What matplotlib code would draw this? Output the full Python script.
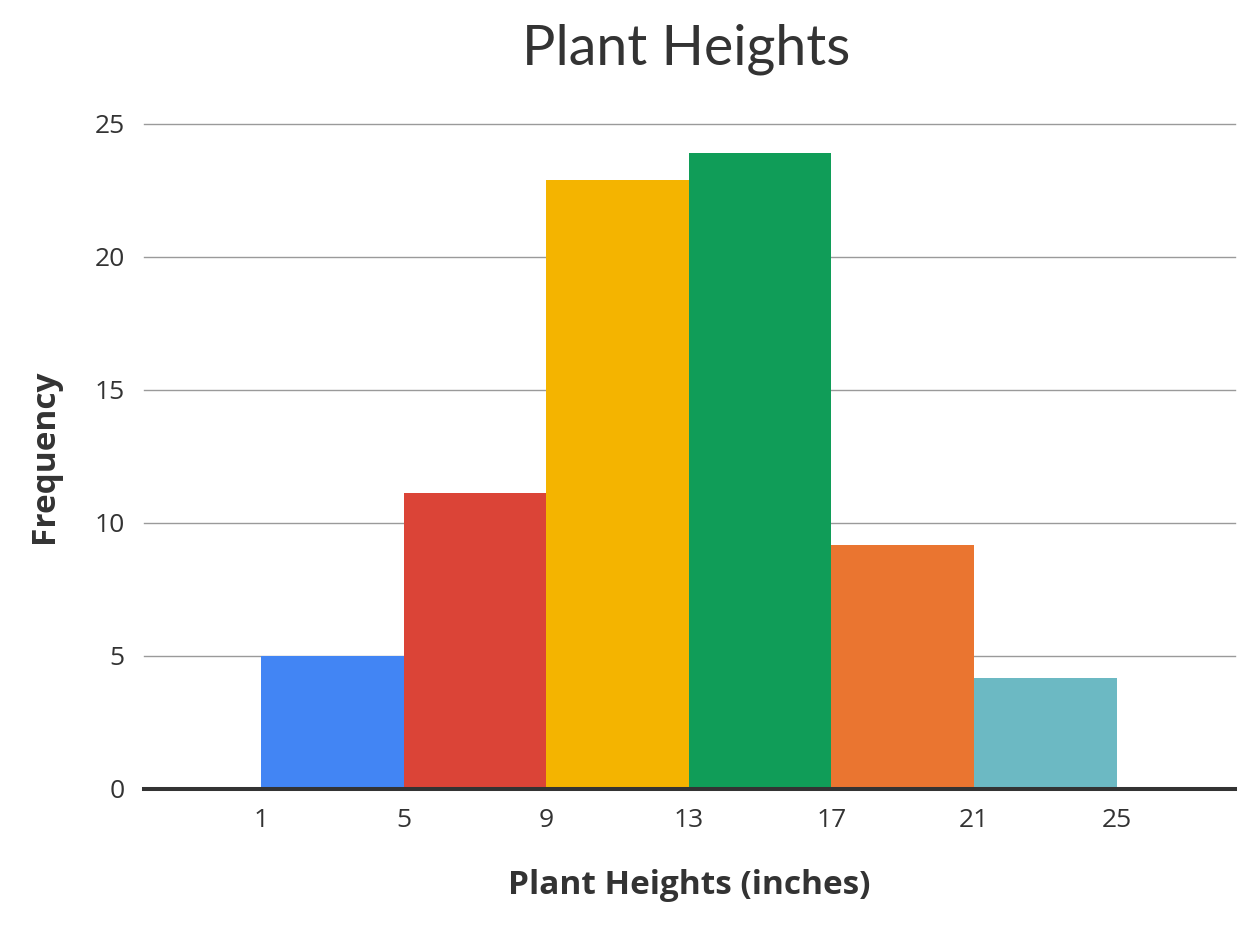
import matplotlib
matplotlib.use("Agg")
import matplotlib.pyplot as plt

# =========================
# Data
# =========================
bin_edges = [1, 5, 9, 13, 17, 21, 25]
frequency = [5.0, 11.1, 22.9, 23.9, 9.15, 4.15]
bar_colors = ["#4285F4", "#DB4437", "#F4B400", "#109D58", "#EA7530", "#6CB9C3"]
y_ticks = [0, 5, 10, 15, 20, 25]

TEXT = "#333333"

fig = plt.figure(figsize=(12.5, 9.38), dpi=100)
ax = fig.add_axes([0.1154, 0.1592, 0.8724, 0.7089])

lefts = bin_edges[:-1]
widths = [b - a for a, b in zip(bin_edges[:-1], bin_edges[1:])]
ax.bar(lefts, frequency, width=widths, align="edge", color=bar_colors,
       zorder=2, linewidth=0)

ax.set_xlim(-2.27, 28.31)
ax.set_ylim(0, 25)

# gridlines
for y in y_ticks[1:]:
    ax.axhline(y, color="#9a9a9a", lw=1.0, zorder=1, clip_on=False)
ax.axhline(0, color="#333333", lw=2.9, zorder=3, clip_on=False)

for s in ax.spines.values():
    s.set_visible(False)

ax.set_xticks(bin_edges)
ax.set_xticklabels([str(b) for b in bin_edges])
ax.set_yticks(y_ticks)
ax.set_yticklabels([str(v) for v in y_ticks])
ax.tick_params(length=0, labelsize=19, colors=TEXT, pad=14)
for lbl in ax.get_xticklabels() + ax.get_yticklabels():
    lbl.set_fontfamily("Open Sans")

ax.set_xlabel("Plant Heights (inches)", fontsize=24, fontweight="bold",
              family="Open Sans", color=TEXT, labelpad=26)
ax.set_ylabel("Frequency", fontsize=24, fontweight="bold",
              family="Open Sans", color=TEXT, labelpad=24)

fig.text(0.5488, 0.948, "Plant Heights", ha="center", va="center",
         fontsize=40, family="Lato", color=TEXT)

fig.savefig("out.png", dpi=100, facecolor="white")
